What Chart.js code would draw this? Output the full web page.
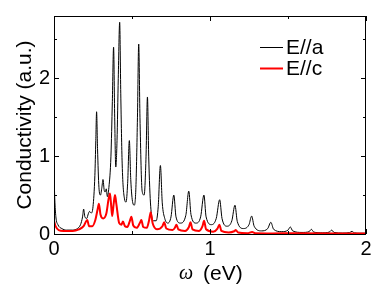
<!DOCTYPE html>
<html>
<head>
<meta charset="utf-8">
<script src="https://cdn.jsdelivr.net/npm/chart.js@4"></script>
<style>
  html, body { margin: 0; padding: 0; background: #fff; }
  canvas { display: block; }
</style>
</head>
<body>
<canvas id="chart" width="382" height="298"></canvas>
<script>
/* ---------- DATA ---------- */
const seriesNames = ['E//a', 'E//c'];
const xTicks = [0, 1, 2];
const yTicks = [0, 1, 2];

// E//a : photon energy (eV) and conductivity (a.u.)
const aOmega = [0.000, 0.005, 0.012, 0.025, 0.05, 0.08, 0.12, 0.15, 0.17, 0.183,
  0.19, 0.198, 0.21, 0.22, 0.228, 0.238, 0.25, 0.262, 0.268, 0.273,
  0.279, 0.288, 0.298, 0.307, 0.314, 0.322, 0.328, 0.335, 0.342, 0.352,
  0.365, 0.374, 0.382, 0.389, 0.396, 0.404, 0.412, 0.421, 0.428, 0.437,
  0.452, 0.462, 0.472, 0.483, 0.492, 0.505, 0.515, 0.525, 0.535, 0.543,
  0.551, 0.565, 0.578, 0.59, 0.599, 0.607, 0.62, 0.64, 0.655, 0.668,
  0.682, 0.694, 0.71, 0.73, 0.75, 0.768, 0.782, 0.81, 0.845, 0.864,
  0.878, 0.91, 0.94, 0.961, 0.975, 1.01, 1.04, 1.062, 1.077, 1.11,
  1.14, 1.16, 1.175, 1.215, 1.25, 1.267, 1.283, 1.33, 1.37, 1.39,
  1.408, 1.46, 1.50, 1.515, 1.53, 1.59, 1.635, 1.65, 1.665, 1.72,
  1.765, 1.78, 1.795, 1.85, 1.895, 1.91, 1.925, 1.96, 2.0];
const aSigma = [0.78, 0.45, 0.22, 0.12, 0.07, 0.05, 0.05, 0.07, 0.12, 0.22,
  0.32, 0.22, 0.20, 0.26, 0.29, 0.27, 0.35, 0.75, 1.2, 1.57,
  1.1, 0.6, 0.50, 0.60, 0.70, 0.56, 0.54, 0.58, 0.48, 0.60,
  1.0, 1.7, 2.40, 1.5, 0.86, 1.2, 2.0, 2.72, 1.8, 0.9,
  0.45, 0.41, 0.65, 1.20, 0.7, 0.40, 0.37, 0.6, 1.5, 2.44,
  1.5, 0.55, 0.5, 1.0, 1.76, 1.0, 0.35, 0.17, 0.17, 0.35,
  0.88, 0.4, 0.2, 0.14, 0.22, 0.50, 0.22, 0.14, 0.24, 0.55,
  0.25, 0.14, 0.22, 0.50, 0.22, 0.12, 0.2, 0.44, 0.2, 0.1,
  0.17, 0.37, 0.16, 0.07, 0.12, 0.23, 0.1, 0.04, 0.07, 0.15,
  0.06, 0.03, 0.05, 0.09, 0.04, 0.02, 0.03, 0.06, 0.025, 0.015,
  0.025, 0.05, 0.02, 0.012, 0.018, 0.035, 0.015, 0.01, 0.01];

// E//c
const cOmega = [0, 0.01, 0.03, 0.06, 0.12, 0.16, 0.19, 0.205, 0.213, 0.225,
  0.245, 0.265, 0.28, 0.288, 0.298, 0.315, 0.335, 0.35, 0.359, 0.367,
  0.373, 0.382, 0.391, 0.40, 0.418, 0.432, 0.442, 0.455, 0.47, 0.485,
  0.496, 0.508, 0.53, 0.55, 0.56, 0.572, 0.595, 0.61, 0.62, 0.632,
  0.66, 0.695, 0.706, 0.72, 0.76, 0.775, 0.785, 0.797, 0.84, 0.865,
  0.875, 0.888, 0.93, 0.952, 0.962, 0.975, 1.02, 1.048, 1.06, 1.073,
  1.12, 1.155, 1.165, 1.18, 1.24, 1.27, 1.29, 1.4, 1.52, 2.0];
const cSigma = [0.17, 0.10, 0.05, 0.04, 0.04, 0.06, 0.10, 0.16, 0.18, 0.1,
  0.1, 0.18, 0.32, 0.39, 0.25, 0.2, 0.26, 0.45, 0.52, 0.35,
  0.23, 0.38, 0.50, 0.38, 0.14, 0.12, 0.16, 0.10, 0.09, 0.16,
  0.22, 0.11, 0.08, 0.14, 0.18, 0.09, 0.08, 0.18, 0.28, 0.14,
  0.06, 0.1, 0.15, 0.07, 0.05, 0.08, 0.12, 0.06, 0.04, 0.09,
  0.15, 0.06, 0.04, 0.1, 0.17, 0.06, 0.03, 0.07, 0.12, 0.04,
  0.02, 0.035, 0.05, 0.02, 0.01, 0.025, 0.01, 0.008, 0.01, 0.005];

/* ---------- HELPERS ---------- */
const FONT = '"Liberation Sans", Arial, Helvetica, sans-serif';
const toPoints = (xs, ys) => xs.map((x, i) => ({ x: x, y: ys[i] }));

/* ---------- FRAME, TICKS, TITLES, LEGEND ---------- */
const decorations = {
  id: 'decorations',
  afterDraw(chart) {
    const ctx = chart.ctx;
    const a = chart.chartArea;
    const xs = chart.scales.x, ys = chart.scales.y;
    ctx.save();
    ctx.strokeStyle = '#000';
    ctx.lineWidth = 1;
    ctx.strokeRect(a.left + 0.5, a.top + 0.5, a.right - a.left - 1, a.bottom - a.top);

    // inner ticks on all four sides
    ctx.beginPath();
    for (let v = 0; v <= 2.0001; v += 0.5) {
      const len = Number.isInteger(v) ? 5 : 3;
      const px = Math.round(xs.getPixelForValue(v)) + 0.5;
      ctx.moveTo(px, a.bottom); ctx.lineTo(px, a.bottom - len);
      ctx.moveTo(px, a.top); ctx.lineTo(px, a.top + len);
    }
    for (let v = 0; v <= 2.8; v += 0.5) {
      const len = Number.isInteger(v) ? 5 : 3;
      const py = Math.round(ys.getPixelForValue(v)) + 0.5;
      ctx.moveTo(a.left, py); ctx.lineTo(a.left + len, py);
      ctx.moveTo(a.right, py); ctx.lineTo(a.right - len, py);
    }
    ctx.stroke();

    ctx.fillStyle = '#000';
    // y title
    ctx.save();
    ctx.translate(25, 125);
    ctx.rotate(-Math.PI / 2);
    ctx.font = '21px ' + FONT;
    ctx.textAlign = 'center';
    ctx.textBaseline = 'middle';
    ctx.fillText('Conductivity (a.u.)', 0, 0);
    ctx.restore();

    // x title
    ctx.textBaseline = 'alphabetic';
    ctx.textAlign = 'left';
    ctx.font = 'italic 20px "Liberation Serif", "Times New Roman", serif';
    ctx.fillText('ω', 179, 279);
    ctx.font = '21px ' + FONT;
    ctx.fillText('(eV)', 203, 280);

    // legend
    const legend = [
      { label: seriesNames[0], color: '#000', width: 1, y: 47 },
      { label: seriesNames[1], color: '#ff0000', width: 2, y: 68 }
    ];
    ctx.textBaseline = 'middle';
    legend.forEach(l => {
      ctx.strokeStyle = l.color;
      ctx.lineWidth = l.width;
      ctx.beginPath();
      ctx.moveTo(260, l.y + 0.5); ctx.lineTo(283, l.y + 0.5);
      ctx.stroke();
      ctx.fillStyle = '#000';
      ctx.fillText(l.label, 286, l.y + 1);
    });
    ctx.restore();
  }
};

/* ---------- CHART ---------- */
new Chart(document.getElementById('chart').getContext('2d'), {
  type: 'line',
  data: {
    datasets: [
      {
        label: seriesNames[0],
        data: toPoints(aOmega, aSigma),
        borderColor: '#000',
        borderWidth: 1,
        order: 1
      },
      {
        label: seriesNames[1],
        data: toPoints(cOmega, cSigma),
        borderColor: '#ff0000',
        borderWidth: 2,
        order: 0
      }
    ]
  },
  options: {
    responsive: false,
    devicePixelRatio: 1,
    animation: false,
    layout: { padding: { left: 0, right: 16, top: 13, bottom: 0 } },
    elements: {
      point: { radius: 0 },
      line: { cubicInterpolationMode: 'monotone', fill: false }
    },
    plugins: { legend: { display: false }, tooltip: { enabled: false } },
    scales: {
      x: {
        type: 'linear',
        min: 0, max: 2,
        afterFit: s => { s.height = 64; },
        afterBuildTicks: s => { s.ticks = xTicks.map(v => ({ value: v })); },
        grid: { display: false, drawTicks: false },
        border: { display: false },
        ticks: { color: '#000', padding: 3, autoSkip: false, maxRotation: 0,
                 font: { family: FONT, size: 20 } }
      },
      y: {
        type: 'linear',
        min: 0, max: 2.8,
        afterFit: s => { s.width = 54; },
        afterBuildTicks: s => { s.ticks = yTicks.map(v => ({ value: v })); },
        grid: { display: false, drawTicks: false },
        border: { display: false },
        ticks: { color: '#000', padding: 4, autoSkip: false,
                 font: { family: FONT, size: 20 } }
      }
    }
  },
  plugins: [decorations]
});
</script>
</body>
</html>
